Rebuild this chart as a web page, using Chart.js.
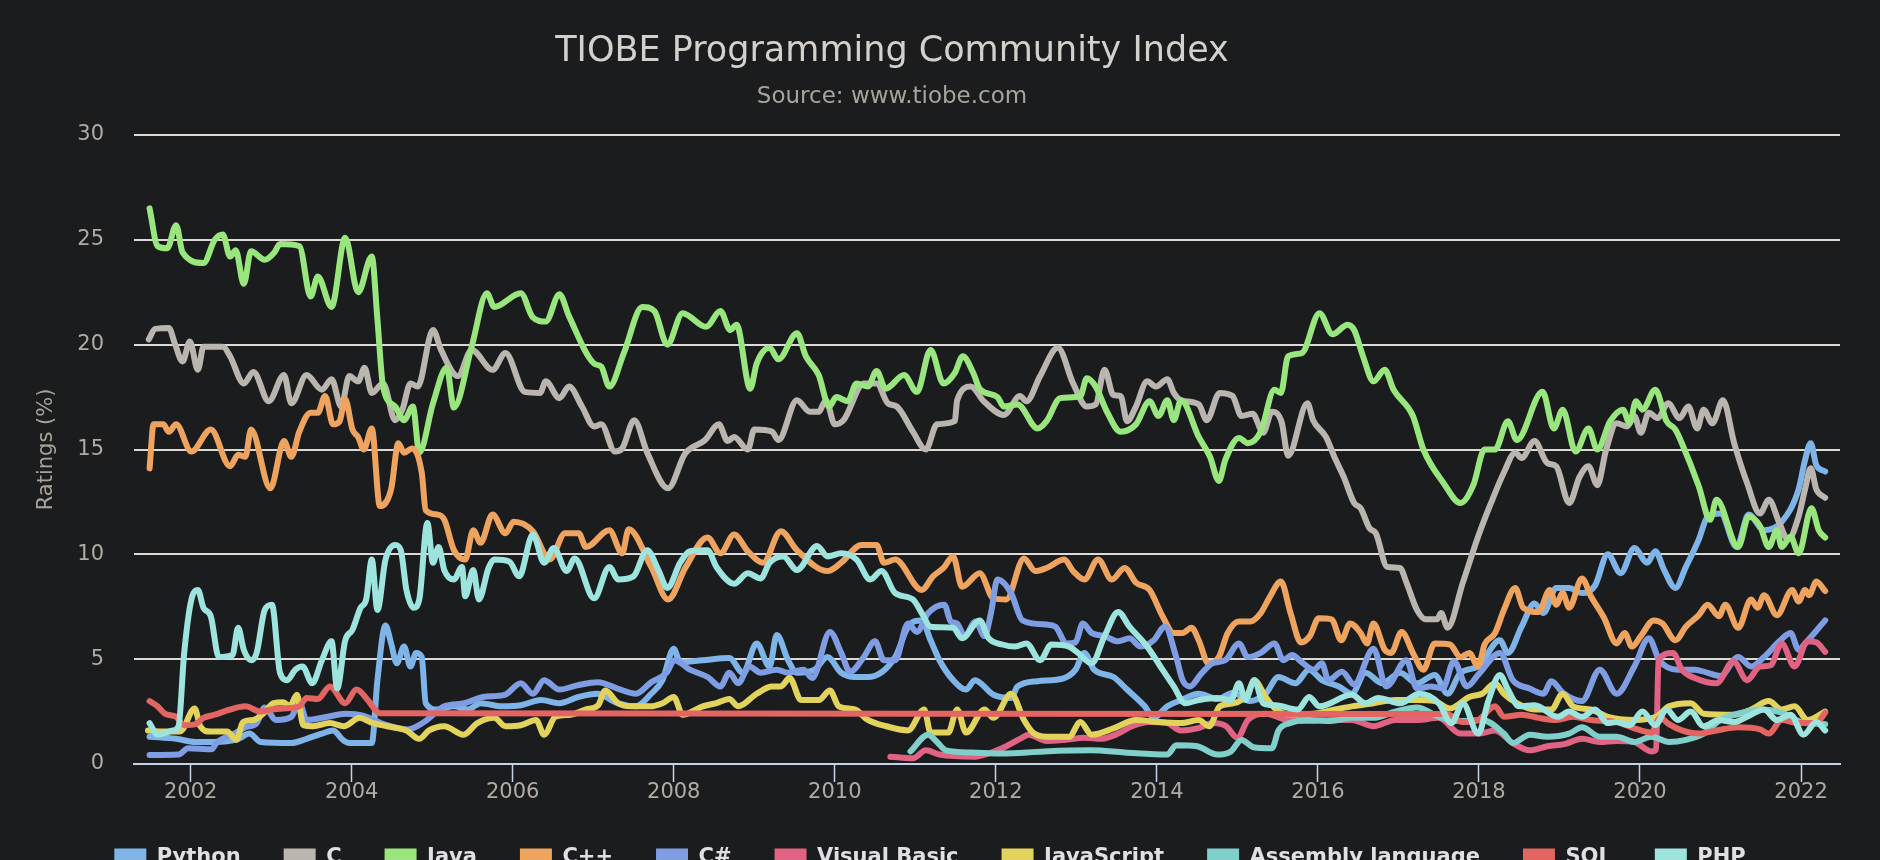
<!DOCTYPE html>
<html>
<head>
<meta charset="utf-8">
<script src="https://cdn.jsdelivr.net/npm/chart.js@4.4.1/dist/chart.umd.min.js"></script>
<style>
html,body{margin:0;padding:0;background:#1b1c1e;overflow:hidden;width:1880px;height:860px}
#wrap{position:absolute;left:0;top:0;width:1880px;height:878px}
</style>
</head>
<body>
<div id="wrap"><canvas id="chart"></canvas></div>
<script>
// ---------- data (year, rating %) ----------
const yearTicks = [2002, 2004, 2006, 2008, 2010, 2012, 2014, 2016, 2018, 2020, 2022];
const seriesNames = ['Python', 'C', 'Java', 'C++', 'C#', 'Visual Basic', 'JavaScript', 'Assembly language', 'SQL', 'PHP'];

const python = [[2001.49,1.3],[2001.82,1.2],[2002.06,1.05],[2002.30,1.05],[2002.59,1.2],[2002.73,1.45],[2002.87,1.05],[2003.25,1.0],[2003.44,1.2],[2003.63,1.45],[2003.77,1.6],[2003.89,1.15],[2003.97,1.0],[2004.25,1.0],[2004.32,4.0],[2004.42,6.6],[2004.49,5.75],[2004.56,4.8],[2004.65,5.6],[2004.73,4.65],[2004.80,5.3],[2004.87,5.1],[2004.92,2.9],[2005.06,2.6],[2005.27,2.75],[2005.44,2.6],[2005.60,2.9],[2005.87,2.75],[2006.10,2.8],[2006.35,3.05],[2006.58,2.9],[2006.82,3.2],[2007.05,3.35],[2007.30,2.9],[2007.53,2.75],[2007.72,3.35],[2007.86,4.0],[2008.00,5.5],[2008.08,4.85],[2008.36,4.95],[2008.69,5.05],[2008.86,4.35],[2009.03,5.75],[2009.19,4.65],[2009.28,6.15],[2009.42,4.95],[2009.53,4.35],[2009.75,4.5],[2009.91,5.1],[2010.08,4.35],[2010.25,4.15],[2010.41,4.15],[2010.75,5.1],[2010.91,6.55],[2011.08,6.85],[2011.19,5.9],[2011.30,4.95],[2011.47,4.0],[2011.63,3.55],[2011.74,4.0],[2011.97,3.3],[2012.19,3.15],[2012.27,3.7],[2012.52,3.95],[2012.85,4.1],[2012.99,4.5],[2013.10,5.3],[2013.22,4.5],[2013.46,4.15],[2013.63,3.55],[2013.85,2.75],[2013.96,2.2],[2014.13,2.75],[2014.30,3.05],[2014.52,3.35],[2014.75,3.1],[2014.95,3.4],[2015.15,3.0],[2015.35,3.35],[2015.51,4.15],[2015.72,3.85],[2015.89,4.5],[2016.05,4.0],[2016.26,3.7],[2016.42,3.35],[2016.59,4.35],[2016.80,3.85],[2017.02,4.35],[2017.23,3.85],[2017.45,4.25],[2017.61,3.35],[2017.77,4.35],[2017.99,4.65],[2018.26,5.9],[2018.36,5.3],[2018.53,6.55],[2018.69,7.65],[2018.80,7.2],[2018.96,8.4],[2019.12,8.4],[2019.28,8.15],[2019.44,8.5],[2019.60,10.0],[2019.76,9.1],[2019.93,10.3],[2020.09,9.6],[2020.19,10.15],[2020.30,9.25],[2020.44,8.4],[2020.57,9.4],[2020.73,10.7],[2020.84,11.8],[2021.00,11.95],[2021.20,10.35],[2021.35,11.9],[2021.54,11.15],[2021.76,11.55],[2021.97,13.1],[2022.05,14.5],[2022.12,15.3],[2022.19,14.25],[2022.30,13.95]];

const langC = [[2001.48,20.25],[2001.56,20.75],[2001.73,20.8],[2001.80,20.1],[2001.90,19.2],[2001.99,20.15],[2002.09,18.8],[2002.16,19.9],[2002.40,19.9],[2002.49,19.45],[2002.66,18.15],[2002.78,18.7],[2002.97,17.3],[2003.16,18.55],[2003.25,17.2],[2003.44,18.55],[2003.63,17.85],[2003.75,18.35],[2003.87,17.05],[2003.97,18.5],[2004.08,18.25],[2004.16,18.9],[2004.25,17.7],[2004.39,18.15],[2004.54,16.4],[2004.63,16.9],[2004.73,18.15],[2004.82,18.0],[2005.01,20.7],[2005.11,19.75],[2005.32,18.5],[2005.49,19.75],[2005.75,18.8],[2005.91,19.6],[2006.15,17.75],[2006.34,17.7],[2006.41,18.25],[2006.58,17.45],[2006.70,18.0],[2006.86,17.05],[2007.01,16.1],[2007.10,16.2],[2007.27,14.9],[2007.36,15.05],[2007.51,16.4],[2007.67,14.85],[2007.93,13.15],[2008.14,14.8],[2008.39,15.45],[2008.56,16.2],[2008.67,15.4],[2008.75,15.6],[2008.92,15.0],[2009.00,15.95],[2009.22,15.85],[2009.30,15.45],[2009.53,17.35],[2009.69,16.8],[2009.80,16.8],[2009.89,17.35],[2010.00,16.2],[2010.11,16.4],[2010.36,18.15],[2010.52,18.15],[2010.66,17.2],[2010.77,17.05],[2010.97,15.85],[2011.13,15.0],[2011.27,16.2],[2011.49,16.35],[2011.52,17.35],[2011.69,18.0],[2011.85,17.3],[2012.10,16.65],[2012.30,17.55],[2012.38,17.3],[2012.55,18.5],[2012.77,19.85],[2012.96,18.15],[2013.13,17.05],[2013.24,17.15],[2013.35,18.8],[2013.46,17.6],[2013.55,17.55],[2013.63,16.35],[2013.74,17.05],[2013.88,18.25],[2013.99,18.0],[2014.13,18.35],[2014.21,17.7],[2014.30,17.35],[2014.52,17.15],[2014.62,16.4],[2014.78,17.7],[2014.94,17.55],[2015.05,16.6],[2015.19,16.7],[2015.32,15.8],[2015.43,16.8],[2015.55,16.3],[2015.63,14.7],[2015.87,17.2],[2015.94,16.4],[2016.10,15.6],[2016.21,14.6],[2016.32,13.7],[2016.45,12.45],[2016.53,12.2],[2016.64,11.25],[2016.72,11.0],[2016.86,9.4],[2017.02,9.35],[2017.10,8.65],[2017.23,7.35],[2017.34,6.9],[2017.48,6.9],[2017.53,7.2],[2017.61,6.5],[2017.80,8.65],[2017.99,10.85],[2018.15,12.45],[2018.31,13.9],[2018.45,14.85],[2018.53,14.6],[2018.69,15.4],[2018.85,14.35],[2018.96,14.2],[2019.12,12.45],[2019.25,13.7],[2019.36,14.2],[2019.47,13.3],[2019.58,15.0],[2019.71,16.25],[2019.84,16.1],[2019.93,16.6],[2020.01,15.8],[2020.11,16.75],[2020.22,16.5],[2020.35,17.2],[2020.49,16.5],[2020.60,17.05],[2020.71,16.0],[2020.79,16.9],[2020.90,16.25],[2021.03,17.35],[2021.17,15.3],[2021.33,13.4],[2021.49,11.95],[2021.60,12.6],[2021.73,11.5],[2021.84,10.7],[2021.97,11.8],[2022.05,13.1],[2022.12,14.1],[2022.19,13.1],[2022.30,12.7]];

const java = [[2001.49,26.5],[2001.59,24.7],[2001.71,24.6],[2001.82,25.7],[2001.90,24.4],[2002.16,23.9],[2002.30,25.0],[2002.40,25.25],[2002.49,24.2],[2002.56,24.5],[2002.66,22.9],[2002.75,24.45],[2002.92,24.05],[2003.04,24.4],[2003.11,24.8],[2003.35,24.7],[2003.49,22.3],[2003.58,23.25],[2003.75,21.8],[2003.92,25.1],[2004.08,22.5],[2004.25,24.2],[2004.32,21.2],[2004.39,18.0],[2004.54,17.05],[2004.65,16.4],[2004.76,17.05],[2004.84,14.85],[2005.01,17.2],[2005.18,18.9],[2005.27,17.0],[2005.49,19.9],[2005.68,22.45],[2005.77,21.8],[2006.10,22.45],[2006.25,21.3],[2006.41,21.1],[2006.58,22.4],[2006.70,21.35],[2007.01,19.1],[2007.10,18.95],[2007.20,18.0],[2007.38,19.6],[2007.61,21.8],[2007.76,21.6],[2007.92,20.0],[2008.11,21.5],[2008.40,20.85],[2008.58,21.6],[2008.70,20.7],[2008.78,20.95],[2008.95,17.9],[2009.03,19.1],[2009.19,19.85],[2009.30,19.3],[2009.53,20.55],[2009.64,19.45],[2009.80,18.55],[2009.93,17.05],[2010.02,17.5],[2010.16,17.3],[2010.27,18.15],[2010.41,18.0],[2010.52,18.75],[2010.63,17.9],[2010.86,18.55],[2011.02,17.75],[2011.19,19.75],[2011.35,18.15],[2011.49,18.65],[2011.59,19.45],[2011.72,18.65],[2011.80,17.9],[2012.02,17.5],[2012.10,17.05],[2012.27,17.15],[2012.52,16.0],[2012.63,16.35],[2012.80,17.45],[2013.05,17.55],[2013.13,18.4],[2013.24,18.0],[2013.38,16.8],[2013.55,15.85],[2013.74,16.2],[2013.91,17.3],[2014.02,16.6],[2014.13,17.35],[2014.21,16.4],[2014.30,17.35],[2014.52,15.6],[2014.66,14.65],[2014.77,13.5],[2014.85,14.5],[2015.02,15.55],[2015.13,15.3],[2015.29,15.85],[2015.46,17.85],[2015.54,17.7],[2015.63,19.45],[2015.80,19.6],[2016.02,21.5],[2016.18,20.5],[2016.37,20.95],[2016.45,20.7],[2016.56,19.45],[2016.69,18.25],[2016.83,18.8],[2016.94,17.85],[2017.18,16.6],[2017.31,15.0],[2017.56,13.4],[2017.77,12.45],[2017.93,13.3],[2018.07,15.0],[2018.20,15.0],[2018.36,16.35],[2018.47,15.45],[2018.79,17.75],[2018.93,16.0],[2019.04,16.9],[2019.20,14.9],[2019.36,16.0],[2019.47,15.0],[2019.63,16.35],[2019.79,16.9],[2019.87,16.25],[2019.95,17.3],[2020.03,16.9],[2020.19,17.85],[2020.33,16.35],[2020.44,15.95],[2020.52,15.3],[2020.73,13.25],[2020.87,11.65],[2020.95,12.6],[2021.22,10.35],[2021.35,11.8],[2021.49,11.35],[2021.60,10.35],[2021.70,11.15],[2021.76,10.35],[2021.87,10.85],[2021.97,10.05],[2022.13,12.2],[2022.22,11.15],[2022.30,10.8]];

const cpp = [[2001.49,14.1],[2001.54,16.2],[2001.66,16.2],[2001.73,15.85],[2001.82,16.2],[2002.01,14.9],[2002.25,15.95],[2002.49,14.2],[2002.59,14.75],[2002.68,14.65],[2002.75,15.95],[2002.99,13.15],[2003.16,15.4],[2003.25,14.65],[2003.35,15.85],[2003.49,16.75],[2003.58,16.75],[2003.67,17.55],[2003.77,16.2],[2003.85,16.35],[2003.92,17.4],[2004.01,15.95],[2004.08,15.6],[2004.15,15.0],[2004.25,16.0],[2004.35,12.3],[2004.49,13.1],[2004.58,15.3],[2004.65,14.85],[2004.75,15.05],[2004.87,13.9],[2004.92,12.1],[2005.06,11.9],[2005.15,11.65],[2005.27,10.2],[2005.41,9.75],[2005.51,11.15],[2005.60,10.55],[2005.75,11.9],[2005.91,11.0],[2006.01,11.55],[2006.25,11.1],[2006.46,9.75],[2006.65,11.0],[2006.82,11.0],[2006.91,10.35],[2007.20,11.15],[2007.36,10.05],[2007.44,11.2],[2007.72,9.4],[2007.93,7.85],[2008.15,9.4],[2008.42,10.8],[2008.58,10.05],[2008.75,10.95],[2008.92,10.15],[2009.11,9.6],[2009.33,11.1],[2009.53,10.2],[2009.91,9.2],[2010.08,9.6],[2010.33,10.45],[2010.52,10.45],[2010.61,9.6],[2010.75,9.75],[2011.08,8.3],[2011.22,8.95],[2011.35,9.35],[2011.47,9.9],[2011.58,8.45],[2011.80,9.1],[2011.97,7.9],[2012.13,7.85],[2012.35,9.8],[2012.49,9.2],[2012.63,9.35],[2012.85,9.75],[2012.96,9.2],[2013.10,8.8],[2013.27,9.75],[2013.44,8.8],[2013.60,9.35],[2013.74,8.65],[2013.91,8.3],[2014.07,7.05],[2014.21,6.25],[2014.32,6.25],[2014.43,6.5],[2014.52,5.9],[2014.64,4.8],[2014.77,5.1],[2014.88,6.25],[2015.02,6.8],[2015.16,6.8],[2015.29,7.2],[2015.40,7.95],[2015.54,8.7],[2015.66,7.2],[2015.79,5.8],[2015.90,6.1],[2016.01,6.95],[2016.17,6.9],[2016.29,5.9],[2016.40,6.7],[2016.53,6.25],[2016.61,5.75],[2016.69,6.7],[2016.83,5.45],[2016.91,5.3],[2017.04,6.3],[2017.18,5.3],[2017.31,4.5],[2017.45,5.75],[2017.64,5.7],[2017.77,5.1],[2017.88,5.3],[2017.99,4.65],[2018.07,5.7],[2018.20,6.25],[2018.31,7.35],[2018.45,8.4],[2018.55,7.45],[2018.74,7.25],[2018.88,8.3],[2018.96,7.6],[2019.04,8.15],[2019.12,7.45],[2019.28,8.85],[2019.39,8.0],[2019.55,7.0],[2019.71,5.75],[2019.81,6.25],[2019.90,5.6],[2020.01,6.1],[2020.17,6.85],[2020.28,6.7],[2020.44,5.9],[2020.57,6.55],[2020.73,7.1],[2020.84,7.6],[2020.98,7.05],[2021.06,7.6],[2021.22,6.5],[2021.38,7.85],[2021.46,7.45],[2021.54,8.05],[2021.70,7.1],[2021.89,8.3],[2021.97,7.75],[2022.05,8.3],[2022.10,8.05],[2022.19,8.7],[2022.30,8.25]];

const csharp = [[2001.49,0.43],[2001.85,0.45],[2001.97,0.75],[2002.26,0.7],[2002.32,1.0],[2002.54,1.45],[2002.68,1.75],[2002.82,1.95],[2002.92,2.7],[2003.06,2.1],[2003.25,2.25],[2003.35,2.95],[2003.44,2.1],[2003.70,2.25],[2003.92,2.4],[2004.15,2.3],[2004.40,1.9],[2004.70,1.65],[2004.90,2.0],[2005.15,2.75],[2005.40,2.9],[2005.63,3.2],[2005.90,3.3],[2006.10,3.85],[2006.25,3.35],[2006.39,4.0],[2006.58,3.55],[2006.80,3.75],[2007.06,3.9],[2007.30,3.6],[2007.53,3.35],[2007.72,3.9],[2007.91,4.35],[2008.01,4.95],[2008.20,4.5],[2008.42,4.15],[2008.58,3.7],[2008.69,4.35],[2008.80,3.85],[2008.94,4.65],[2009.08,4.35],[2009.28,4.5],[2009.42,4.35],[2009.61,4.5],[2009.72,4.1],[2009.94,6.3],[2010.08,5.3],[2010.19,4.4],[2010.36,5.1],[2010.50,5.85],[2010.61,4.95],[2010.75,4.95],[2010.91,6.7],[2011.02,6.3],[2011.16,7.2],[2011.36,7.6],[2011.44,6.8],[2011.52,6.7],[2011.61,6.1],[2011.75,6.8],[2011.86,6.1],[2011.94,7.2],[2012.02,8.8],[2012.19,8.15],[2012.33,6.85],[2012.63,6.65],[2012.74,6.55],[2012.88,5.75],[2012.99,5.8],[2013.08,6.7],[2013.19,6.25],[2013.35,6.1],[2013.52,5.85],[2013.66,6.0],[2013.80,5.6],[2013.96,5.9],[2014.10,6.55],[2014.24,5.1],[2014.32,4.0],[2014.41,3.7],[2014.55,4.3],[2014.69,4.8],[2014.85,4.95],[2015.02,5.75],[2015.13,5.1],[2015.29,5.3],[2015.46,5.75],[2015.57,4.95],[2015.68,5.2],[2015.80,4.85],[2015.95,4.5],[2016.05,4.8],[2016.13,4.0],[2016.30,4.4],[2016.45,3.8],[2016.69,5.5],[2016.85,3.7],[2017.10,4.95],[2017.23,3.6],[2017.40,3.7],[2017.55,3.6],[2017.69,4.9],[2017.85,3.7],[2018.00,4.3],[2018.26,5.3],[2018.42,4.0],[2018.63,3.6],[2018.80,3.35],[2018.90,3.95],[2019.04,3.4],[2019.28,3.0],[2019.50,4.5],[2019.71,3.35],[2019.93,4.65],[2020.11,6.0],[2020.24,4.95],[2020.47,4.5],[2020.68,4.5],[2020.84,4.35],[2021.00,4.2],[2021.22,5.1],[2021.38,4.65],[2021.54,5.1],[2021.73,5.85],[2021.87,6.25],[2021.97,5.45],[2022.05,5.75],[2022.30,6.85]];

const visualBasic = [[2010.69,0.35],[2010.97,0.27],[2011.13,0.65],[2011.30,0.45],[2011.74,0.35],[2011.91,0.5],[2012.13,0.85],[2012.30,1.2],[2012.41,1.4],[2012.63,1.1],[2012.85,1.15],[2013.10,1.25],[2013.30,1.2],[2013.52,1.45],[2013.69,1.8],[2013.91,2.0],[2014.13,1.95],[2014.30,1.6],[2014.50,1.7],[2014.70,1.95],[2014.86,1.8],[2015.00,1.25],[2015.13,2.1],[2015.35,2.4],[2015.62,2.1],[2015.89,2.05],[2016.16,2.1],[2016.42,2.1],[2016.69,1.8],[2016.96,2.1],[2017.23,2.1],[2017.50,2.2],[2017.77,1.45],[2017.99,1.45],[2018.20,1.6],[2018.42,1.0],[2018.63,0.65],[2018.85,0.85],[2019.06,0.95],[2019.28,1.2],[2019.50,1.05],[2019.71,1.1],[2019.93,1.05],[2020.14,0.6],[2020.20,0.7],[2020.23,4.95],[2020.41,5.3],[2020.52,4.5],[2020.68,4.1],[2020.95,3.85],[2021.16,4.9],[2021.33,4.0],[2021.49,4.65],[2021.62,4.7],[2021.76,5.75],[2021.92,4.65],[2022.08,5.85],[2022.19,5.8],[2022.30,5.35]];

const javaScript = [[2001.47,1.6],[2001.66,1.55],[2001.87,1.55],[2002.05,2.65],[2002.12,1.8],[2002.24,1.55],[2002.45,1.55],[2002.57,1.15],[2002.65,2.0],[2002.78,2.1],[2002.90,2.4],[2003.03,2.9],[2003.15,2.95],[2003.23,2.75],[2003.32,3.3],[2003.40,1.85],[2003.52,1.8],[2003.73,1.95],[2003.90,1.8],[2004.10,2.2],[2004.23,2.0],[2004.44,1.8],[2004.68,1.6],[2004.84,1.2],[2004.96,1.6],[2005.15,1.8],[2005.39,1.4],[2005.56,1.95],[2005.77,2.2],[2005.91,1.8],[2006.10,1.85],[2006.29,2.1],[2006.39,1.4],[2006.53,2.25],[2006.72,2.35],[2006.91,2.6],[2007.06,2.8],[2007.15,3.5],[2007.31,2.9],[2007.47,2.75],[2007.70,2.75],[2007.86,2.9],[2008.00,3.2],[2008.11,2.35],[2008.36,2.75],[2008.53,2.9],[2008.69,3.1],[2008.80,2.75],[2009.03,3.35],[2009.22,3.7],[2009.33,3.7],[2009.44,4.1],[2009.58,3.05],[2009.80,3.05],[2009.94,3.5],[2010.05,2.75],[2010.25,2.6],[2010.41,2.1],[2010.64,1.8],[2010.91,1.6],[2011.11,2.6],[2011.19,1.5],[2011.41,1.5],[2011.52,2.6],[2011.63,1.5],[2011.86,2.6],[2011.97,2.2],[2012.19,3.35],[2012.35,2.1],[2012.46,1.5],[2012.63,1.3],[2012.91,1.3],[2013.05,2.0],[2013.19,1.4],[2013.46,1.7],[2013.74,2.1],[2014.02,2.0],[2014.30,1.95],[2014.52,2.1],[2014.65,1.8],[2014.78,2.75],[2014.96,2.9],[2015.13,3.35],[2015.21,4.0],[2015.35,3.2],[2015.48,2.6],[2015.67,2.35],[2015.94,2.4],[2016.21,2.6],[2016.42,2.75],[2016.69,2.9],[2016.96,3.05],[2017.23,3.05],[2017.45,3.0],[2017.64,2.65],[2017.88,3.2],[2018.04,3.35],[2018.20,3.85],[2018.31,3.35],[2018.47,2.9],[2018.69,2.6],[2018.90,2.6],[2019.04,3.35],[2019.17,2.75],[2019.39,2.6],[2019.60,2.25],[2019.93,2.1],[2020.20,2.25],[2020.36,2.75],[2020.63,2.9],[2020.79,2.4],[2021.17,2.35],[2021.38,2.6],[2021.60,3.0],[2021.76,2.6],[2021.92,2.75],[2022.08,2.1],[2022.30,2.5]];

const assembly = [[2010.94,0.6],[2011.16,1.4],[2011.27,1.05],[2011.38,0.65],[2011.70,0.55],[2012.08,0.5],[2012.60,0.6],[2013.19,0.65],[2013.60,0.55],[2014.13,0.45],[2014.24,0.9],[2014.50,0.85],[2014.75,0.45],[2014.92,0.6],[2015.05,1.15],[2015.20,0.8],[2015.43,0.75],[2015.51,1.6],[2015.65,1.95],[2015.89,2.1],[2016.16,2.05],[2016.42,2.2],[2016.69,2.2],[2016.96,2.5],[2017.23,2.7],[2017.50,2.25],[2017.77,2.05],[2018.04,2.1],[2018.31,1.45],[2018.42,1.0],[2018.63,1.4],[2018.85,1.3],[2019.12,1.45],[2019.28,1.75],[2019.50,1.3],[2019.71,1.3],[2019.93,1.05],[2020.14,1.3],[2020.36,1.05],[2020.57,1.15],[2020.79,1.45],[2021.00,2.1],[2021.27,2.45],[2021.49,2.6],[2021.76,2.45],[2022.00,2.0],[2022.30,1.9]];

const sql = [[2001.49,3.0],[2001.59,2.75],[2001.68,2.4],[2001.82,2.25],[2001.92,1.85],[2002.06,1.9],[2002.16,2.2],[2002.30,2.35],[2002.49,2.6],[2002.68,2.75],[2002.87,2.5],[2003.01,2.6],[2003.15,2.65],[2003.35,2.75],[2003.44,3.15],[2003.58,3.1],[2003.73,3.7],[2003.92,2.9],[2004.06,3.55],[2004.20,3.05],[2004.30,2.55],[2004.35,2.42],[2017.60,2.38],[2017.80,2.0],[2017.99,2.1],[2018.20,2.75],[2018.31,2.25],[2018.53,2.35],[2018.74,2.2],[2018.96,2.1],[2019.17,2.25],[2019.39,2.1],[2019.71,2.0],[2019.93,1.7],[2020.14,1.5],[2020.25,2.2],[2020.36,1.9],[2020.52,1.6],[2020.73,1.45],[2020.95,1.6],[2021.22,1.75],[2021.49,1.65],[2021.60,1.45],[2021.76,2.1],[2021.97,1.95],[2022.19,1.95],[2022.30,2.45]];

const php = [[2001.49,1.95],[2001.59,1.4],[2001.78,1.6],[2001.85,1.8],[2001.92,5.3],[2002.02,8.0],[2002.09,8.3],[2002.16,7.45],[2002.25,7.05],[2002.35,5.1],[2002.52,5.2],[2002.59,6.5],[2002.66,5.45],[2002.75,4.95],[2002.82,5.3],[2002.92,7.35],[2003.01,7.6],[2003.11,4.35],[2003.20,4.0],[2003.30,4.5],[2003.39,4.65],[2003.51,3.85],[2003.63,4.95],[2003.75,5.85],[2003.82,3.6],[2003.92,5.9],[2004.01,6.4],[2004.11,7.45],[2004.18,7.85],[2004.25,9.75],[2004.32,7.35],[2004.42,9.75],[2004.54,10.45],[2004.61,10.2],[2004.68,8.3],[2004.77,7.45],[2004.84,7.85],[2004.94,11.5],[2005.01,9.6],[2005.08,10.35],[2005.15,9.25],[2005.27,8.8],[2005.37,9.4],[2005.41,8.0],[2005.51,9.25],[2005.58,7.85],[2005.70,9.35],[2005.77,9.75],[2005.96,9.65],[2006.08,8.95],[2006.25,10.95],[2006.39,9.6],[2006.51,10.3],[2006.67,9.2],[2006.77,9.8],[2007.01,7.9],[2007.20,9.4],[2007.31,8.8],[2007.50,8.95],[2007.67,10.2],[2007.81,9.25],[2007.92,8.4],[2008.08,9.6],[2008.20,10.15],[2008.42,10.2],[2008.53,9.4],[2008.75,8.6],[2008.92,9.1],[2009.08,8.85],[2009.19,9.6],[2009.36,9.9],[2009.53,9.25],[2009.78,10.4],[2009.91,9.9],[2010.08,10.05],[2010.27,9.75],[2010.44,8.8],[2010.58,9.2],[2010.75,8.15],[2010.97,7.85],[2011.08,7.2],[2011.19,6.55],[2011.47,6.5],[2011.58,6.0],[2011.80,6.85],[2011.91,6.0],[2012.08,5.7],[2012.24,5.6],[2012.38,5.75],[2012.55,4.95],[2012.69,5.7],[2012.91,5.6],[2013.02,5.3],[2013.19,4.8],[2013.35,6.1],[2013.52,7.25],[2013.66,6.55],[2013.88,5.6],[2014.07,4.5],[2014.21,3.7],[2014.35,2.9],[2014.52,3.05],[2014.74,3.15],[2014.92,3.05],[2015.02,3.85],[2015.10,3.05],[2015.21,4.0],[2015.32,2.9],[2015.48,2.8],[2015.75,2.6],[2015.89,3.2],[2016.02,2.75],[2016.42,3.3],[2016.59,2.9],[2016.75,3.15],[2017.02,2.9],[2017.26,3.35],[2017.50,2.9],[2017.66,1.95],[2017.80,2.9],[2017.99,1.45],[2018.12,3.05],[2018.26,4.25],[2018.36,3.55],[2018.50,2.75],[2018.69,2.8],[2018.98,2.25],[2019.12,2.5],[2019.28,2.25],[2019.44,2.6],[2019.60,1.95],[2019.71,2.0],[2019.87,1.85],[2020.03,2.5],[2020.19,1.85],[2020.33,2.6],[2020.47,2.1],[2020.63,2.5],[2020.79,1.8],[2020.98,2.1],[2021.17,2.0],[2021.33,2.25],[2021.54,2.6],[2021.70,2.1],[2021.87,2.35],[2022.03,1.4],[2022.19,2.0],[2022.30,1.6]];

// ---------- styling ----------
const seriesColors = ['#7fb4e8', '#bab6af', '#9ae67e', '#eea35f', '#7f9de2', '#e06384', '#e2d35c', '#80cfcb', '#e36562', '#9de4de'];
const seriesValues = [python, langC, java, cpp, csharp, visualBasic, javaScript, assembly, sql, php];
const FONT = "'DejaVu Sans', 'Noto Sans', sans-serif";

Chart.defaults.font.family = FONT;

const datasets = seriesValues.map((arr, i) => ({
  label: seriesNames[i],
  data: arr.map(([x, y]) => ({ x, y })),
  borderColor: seriesColors[i],
  backgroundColor: seriesColors[i],
  borderWidth: 6,
  pointRadius: 0,
  pointHoverRadius: 0,
  fill: false,
  cubicInterpolationMode: 'monotone',
  borderCapStyle: 'round',
  borderJoinStyle: 'round',
  order: seriesValues.length - 1 - i
}));

const shiftTitles = {
  id: 'shiftTitles',
  afterLayout(chart) {
    const cx = 892;
    chart.boxes.forEach(b => {
      if (b.position === 'top' && b.options && b.options.text !== undefined) {
        const half = 860;
        b.left = cx - half;
        b.right = cx + half;
      }
    });
  }
};

new Chart(document.getElementById('chart'), {
  type: 'line',
  data: { datasets },
  plugins: [shiftTitles],
  options: {
    responsive: true,
    maintainAspectRatio: false,
    animation: false,
    events: [],
    layout: { padding: { left: 20, right: 40, top: 0, bottom: 0 } },
    plugins: {
      title: {
        display: true,
        text: 'TIOBE Programming Community Index',
        color: '#d4d1cc',
        font: { size: 35, weight: 'normal', family: FONT },
        padding: { top: 31, bottom: 2 }
      },
      subtitle: {
        display: true,
        text: 'Source: www.tiobe.com',
        color: '#a8a49d',
        font: { size: 23, weight: 'normal', family: FONT },
        padding: { top: 8.5, bottom: 23.9 }
      },
      legend: {
        display: true,
        position: 'bottom',
        labels: {
          color: '#e0e0e3',
          font: { size: 21, weight: 'bold', family: FONT },
          boxWidth: 32,
          boxHeight: 18,
          padding: 43,
          sort: (a, b) => a.datasetIndex - b.datasetIndex,
          generateLabels(chart) {
            const items = Chart.defaults.plugins.legend.labels.generateLabels(chart);
            items.forEach(it => { it.lineWidth = 0; it.strokeStyle = it.fillStyle; });
            return items;
          }
        }
      },
      tooltip: { enabled: false }
    },
    scales: {
      x: {
        type: 'linear',
        min: 2001.297,
        max: 2022.484,
        afterBuildTicks(scale) {
          scale.ticks = yearTicks.map(v => ({ value: v }));
        },
        ticks: {
          color: '#b0aba3',
          font: { size: 21, lineHeight: 1, family: FONT },
          padding: 0.5,
          maxRotation: 0,
          autoSkip: false,
          callback: v => String(v)
        },
        grid: {
          drawOnChartArea: false,
          drawTicks: true,
          tickLength: 18,
          tickColor: '#c5d3ea',
          tickWidth: 1.5,
          color: '#c5d3ea'
        },
        border: { display: true, color: '#c5d3ea', width: 2 }
      },
      y: {
        type: 'linear',
        min: 0,
        max: 30,
        ticks: {
          stepSize: 5,
          color: '#b0aba3',
          font: { size: 21, family: FONT },
          padding: 4
        },
        grid: {
          drawTicks: true,
          tickLength: 26,
          tickColor: 'rgba(0,0,0,0)',
          lineWidth: 2,
          color: ctx => (ctx.tick && ctx.tick.value === 0) ? 'rgba(0,0,0,0)' : '#dddad5'
        },
        border: { display: false },
        title: {
          display: true,
          text: 'Ratings (%)',
          color: '#a8a39b',
          font: { size: 21, family: FONT },
          padding: { top: 14.4, bottom: 13.7 }
        }
      }
    }
  }
});
</script>
</body>
</html>
